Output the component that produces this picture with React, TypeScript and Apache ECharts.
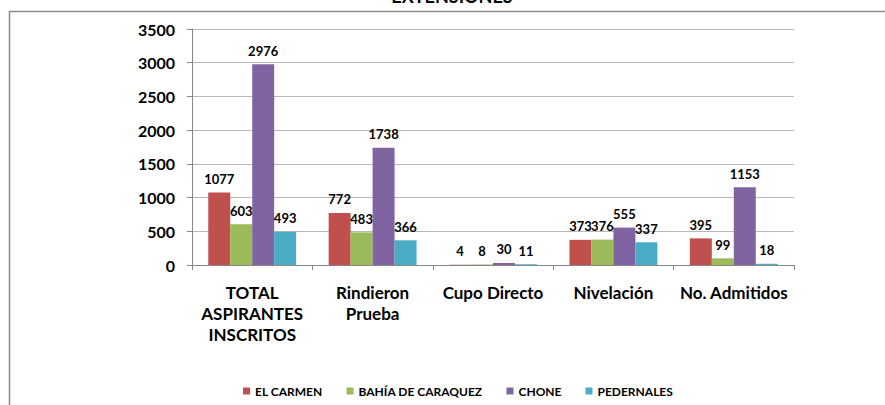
import React, { useEffect, useRef } from "react";
import * as echarts from "echarts";

const categories = ["TOTAL\nASPIRANTES\nINSCRITOS", "Rindieron\nPrueba", "Cupo Directo", "Nivelación", "No. Admitidos"];
const seriesNames = ["EL CARMEN", "BAHÍA DE CARAQUEZ", "CHONE", "PEDERNALES"];
const elCarmen = [1077, 772, 4, 373, 395];
const bahia = [603, 483, 8, 376, 99];
const chone = [2976, 1738, 30, 555, 1153];
const pedernales = [493, 366, 11, 337, 18];
const colors = ["#C0504D", "#9BBB59", "#8064A2", "#4BACC6"];
const yTicks = { min: 0, max: 3500, interval: 500 };

const FONT = "Lato, 'Open Sans', sans-serif";

export default function App() {
  const ref = useRef<HTMLDivElement>(null);
  useEffect(() => {
    if (!ref.current) return;
    const chart = echarts.init(ref.current, undefined, { renderer: "svg" });
    const data = [elCarmen, bahia, chone, pedernales];
    chart.setOption({
      animation: false,
      textStyle: { fontFamily: FONT },
      graphic: [
        {
          type: "rect",
          left: 7,
          top: 9,
          shape: { x: 0, y: 0, width: 900, height: 420 },
          style: { fill: "none", stroke: "#8c8c8c", lineWidth: 1.5 },
          silent: true,
        },
        {
          type: "text",
          x: 452,
          y: 5,
          style: {
            text: "EXTENSIONES",
            fill: "#000",
            font: `bold 18px ${FONT}`,
            textAlign: "center",
            textVerticalAlign: "bottom",
          },
        },
      ],
      legend: {
        bottom: 3,
        left: 238,
        itemWidth: 7,
        itemHeight: 7,
        itemGap: 24,
        icon: "rect",
        textStyle: { fontWeight: "bold", fontSize: 12, color: "#000", fontFamily: FONT },
        data: seriesNames,
      },
      grid: { left: 192, right: 91, top: 29, bottom: 140 },
      xAxis: {
        type: "category",
        data: categories,
        axisLine: { lineStyle: { color: "#888" } },
        axisTick: { show: true, length: 5, lineStyle: { color: "#888" } },
        axisLabel: {
          interval: 0,
          margin: 17,
          fontWeight: "bold",
          fontSize: 17,
          color: "#000",
          lineHeight: 21,
          fontFamily: FONT,
        },
      },
      yAxis: {
        type: "value",
        min: yTicks.min,
        max: yTicks.max,
        interval: yTicks.interval,
        axisLine: { show: true, lineStyle: { color: "#888" } },
        axisTick: { show: true, length: 5, lineStyle: { color: "#888" } },
        splitLine: { lineStyle: { color: "#b8b8b8" } },
        axisLabel: {
          fontWeight: "bold",
          fontSize: 16,
          color: "#000",
          margin: 17,
          fontFamily: FONT,
          formatter: (v: number) => String(v),
        },
      },
      series: seriesNames.map((name, i) => ({
        name,
        type: "bar",
        data: data[i],
        barGap: "0%",
        barCategoryGap: "27%",
        itemStyle: { color: colors[i] },
        label: {
          show: true,
          position: "top",
          distance: 7,
          fontWeight: "bold",
          fontSize: 13,
          color: "#000",
          fontFamily: FONT,
        },
      })),
    });
    return () => chart.dispose();
  }, []);
  return <div ref={ref} style={{ width: 885, height: 405, position: "absolute", left: 0, top: 0 }} />;
}
